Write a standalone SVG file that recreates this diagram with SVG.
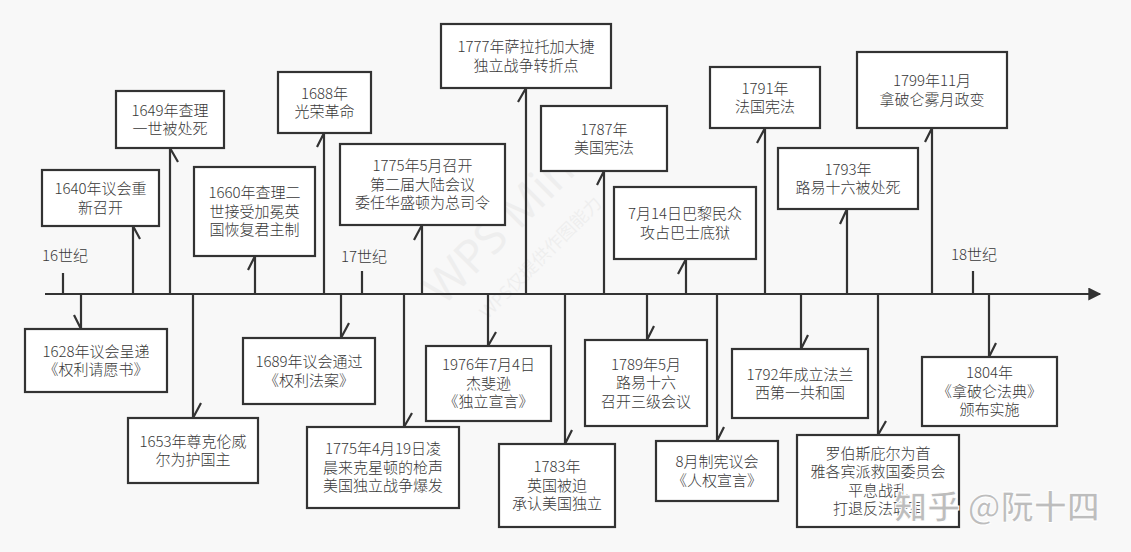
<svg xmlns="http://www.w3.org/2000/svg" width="1131" height="552" viewBox="0 0 1131 552">
<defs>
<style>
.bx{fill:#fff;stroke:#333;stroke-width:2.2}
.t{font-family:"Noto Sans CJK SC","Noto Sans",sans-serif;font-size:15px;font-weight:300;fill:#383838;text-anchor:middle}
.c{fill:none;stroke:#333;stroke-width:2.2}
.wm{font-family:"Noto Sans","Noto Sans CJK SC",sans-serif;fill:#000;opacity:0.035;text-anchor:middle}
</style>
<marker id="ah" viewBox="0 0 10 10" refX="9" refY="5" markerWidth="18" markerHeight="13" markerUnits="userSpaceOnUse" orient="auto">
<path d="M0,0 L10,5 L0,10 z" fill="#333"/>
</marker>
</defs>
<rect width="1131" height="552" fill="#f8f8f8"/>
<g id="watermark-wps">
<text class="wm" font-size="46" transform="translate(520,230) rotate(-45)">WPS Mind</text>
<text class="wm" font-size="18" transform="translate(545,262) rotate(-45)">WPS仅提供作图能力</text>
</g>
<g id="axis">
<path class="c" d="M45,294 H1100" marker-end="url(#ah)"/>
<path class="c" d="M63,294 V273 M362,294 V271 M973,294 V271"/>
<text class="t" x="65" y="261">16世纪</text>
<text class="t" x="364" y="262">17世纪</text>
<text class="t" x="974" y="260">18世纪</text>
</g>
<g id="connectors">
<path class="c" d="M133,294 V226 M133,226 L140,239"/>
<path class="c" d="M170,294 V148 M170,148 L178,162"/>
<path class="c" d="M255,294 V256 M255,256 L248,270"/>
<path class="c" d="M324,294 V133 M324,133 L317,147"/>
<path class="c" d="M422,294 V225 M422,225 L414,240"/>
<path class="c" d="M526,294 V88 M526,88 L518,102"/>
<path class="c" d="M604,294 V171 M604,171 L597,185"/>
<path class="c" d="M686,294 V259 M686,259 L678,274"/>
<path class="c" d="M765,294 V128 M765,128 L757,143"/>
<path class="c" d="M847,294 V209 M847,209 L840,224"/>
<path class="c" d="M932,294 V128 M932,128 L925,142"/>
<path class="c" d="M81,294 V329 M81,329 L74,315"/>
<path class="c" d="M193,294 V418 M193,418 L201,403"/>
<path class="c" d="M341,294 V338 M341,338 L349,323"/>
<path class="c" d="M404,294 V427 M404,427 L412,413"/>
<path class="c" d="M488,294 V346 M488,346 L496,332"/>
<path class="c" d="M565,294 V444 M565,444 L572,430"/>
<path class="c" d="M647,294 V340 M647,340 L654,326"/>
<path class="c" d="M717,294 V441 M717,441 L724,427"/>
<path class="c" d="M801,294 V349 M801,349 L808,335"/>
<path class="c" d="M878,294 V435 M878,435 L886,421"/>
<path class="c" d="M989,294 V357 M989,357 L996,343"/>
</g>
<g id="n1640"><rect class="bx" x="42" y="170" width="117" height="56"/><text class="t" x="100.5" y="194"><tspan x="100.5">1640年议会重</tspan><tspan x="100.5" dy="18.5">新召开</tspan></text></g>
<g id="n1649"><rect class="bx" x="116" y="91" width="108" height="57"/><text class="t" x="170" y="115.5"><tspan x="170">1649年查理</tspan><tspan x="170" dy="18.5">一世被处死</tspan></text></g>
<g id="n1660"><rect class="bx" x="194" y="167" width="121" height="89"/><text class="t" x="254.5" y="198"><tspan x="254.5">1660年查理二</tspan><tspan x="254.5" dy="18.5">世接受加冕英</tspan><tspan x="254.5" dy="18.5">国恢复君主制</tspan></text></g>
<g id="n1688"><rect class="bx" x="278" y="72" width="93" height="61"/><text class="t" x="324.5" y="98.5"><tspan x="324.5">1688年</tspan><tspan x="324.5" dy="18.5">光荣革命</tspan></text></g>
<g id="n1775a"><rect class="bx" x="340" y="144" width="165" height="81"/><text class="t" x="422.5" y="171"><tspan x="422.5">1775年5月召开</tspan><tspan x="422.5" dy="18.5">第二届大陆会议</tspan><tspan x="422.5" dy="18.5">委任华盛顿为总司令</tspan></text></g>
<g id="n1777"><rect class="bx" x="441" y="24" width="170" height="64"/><text class="t" x="526" y="52"><tspan x="526">1777年萨拉托加大捷</tspan><tspan x="526" dy="18.5">独立战争转折点</tspan></text></g>
<g id="n1787"><rect class="bx" x="541" y="106" width="126" height="65"/><text class="t" x="604" y="134.5"><tspan x="604">1787年</tspan><tspan x="604" dy="18.5">美国宪法</tspan></text></g>
<g id="n1789b"><rect class="bx" x="614" y="187" width="142" height="72"/><text class="t" x="685" y="219"><tspan x="685">7月14日巴黎民众</tspan><tspan x="685" dy="18.5">攻占巴士底狱</tspan></text></g>
<g id="n1791"><rect class="bx" x="710" y="67" width="110" height="61"/><text class="t" x="765" y="93.5"><tspan x="765">1791年</tspan><tspan x="765" dy="18.5">法国宪法</tspan></text></g>
<g id="n1793"><rect class="bx" x="778" y="148" width="140" height="61"/><text class="t" x="848" y="174.5"><tspan x="848">1793年</tspan><tspan x="848" dy="18.5">路易十六被处死</tspan></text></g>
<g id="n1799"><rect class="bx" x="857" y="52" width="150" height="76"/><text class="t" x="932" y="86"><tspan x="932">1799年11月</tspan><tspan x="932" dy="18.5">拿破仑雾月政变</tspan></text></g>
<g id="n1628"><rect class="bx" x="25" y="329" width="142" height="63"/><text class="t" x="96" y="356.5"><tspan x="96">1628年议会呈递</tspan><tspan x="96" dy="18.5">《权利请愿书》</tspan></text></g>
<g id="n1653"><rect class="bx" x="128" y="418" width="130" height="65"/><text class="t" x="193" y="446.5"><tspan x="193">1653年尊克伦威</tspan><tspan x="193" dy="18.5">尔为护国主</tspan></text></g>
<g id="n1689"><rect class="bx" x="243" y="338" width="132" height="66"/><text class="t" x="309" y="367"><tspan x="309">1689年议会通过</tspan><tspan x="309" dy="18.5">《权利法案》</tspan></text></g>
<g id="n1775b"><rect class="bx" x="307" y="427" width="152" height="81"/><text class="t" x="383" y="454"><tspan x="383">1775年4月19日凌</tspan><tspan x="383" dy="18.5">晨来克星顿的枪声</tspan><tspan x="383" dy="18.5">美国独立战争爆发</tspan></text></g>
<g id="n1976"><rect class="bx" x="426" y="346" width="125" height="75"/><text class="t" x="488.5" y="370"><tspan x="488.5">1976年7月4日</tspan><tspan x="488.5" dy="18.5">杰斐逊</tspan><tspan x="488.5" dy="18.5">《独立宣言》</tspan></text></g>
<g id="n1783"><rect class="bx" x="499" y="444" width="116" height="83"/><text class="t" x="557" y="472"><tspan x="557">1783年</tspan><tspan x="557" dy="18.5">英国被迫</tspan><tspan x="557" dy="18.5">承认美国独立</tspan></text></g>
<g id="n1789a"><rect class="bx" x="585" y="340" width="122" height="86"/><text class="t" x="646" y="369.5"><tspan x="646">1789年5月</tspan><tspan x="646" dy="18.5">路易十六</tspan><tspan x="646" dy="18.5">召开三级会议</tspan></text></g>
<g id="n1789c"><rect class="bx" x="656" y="441" width="122" height="60"/><text class="t" x="717" y="467"><tspan x="717">8月制宪议会</tspan><tspan x="717" dy="18.5">《人权宣言》</tspan></text></g>
<g id="n1792"><rect class="bx" x="732" y="349" width="136" height="69"/><text class="t" x="800" y="379.5"><tspan x="800">1792年成立法兰</tspan><tspan x="800" dy="18.5">西第一共和国</tspan></text></g>
<g id="n1793b"><rect class="bx" x="797" y="435" width="162" height="92"/><text class="t" x="878" y="458.5"><tspan x="878">罗伯斯庇尔为首</tspan><tspan x="878" dy="18.5">雅各宾派救国委员会</tspan><tspan x="878" dy="18.5">平息战乱</tspan><tspan x="878" dy="18.5">打退反法联军</tspan></text></g>
<g id="n1804"><rect class="bx" x="922" y="357" width="135" height="69"/><text class="t" x="989.5" y="378"><tspan x="989.5">1804年</tspan><tspan x="989.5" dy="18.5">《拿破仑法典》</tspan><tspan x="989.5" dy="18.5">颁布实施</tspan></text></g>
<g id="watermark-zhihu">
<text x="997" y="519" font-family="Noto Sans CJK SC,sans-serif" font-size="33" font-weight="bold" fill="#bdbdbd" stroke="#fff" stroke-width="1" text-anchor="middle">知乎 @阮十四</text>
</g>
</svg>
